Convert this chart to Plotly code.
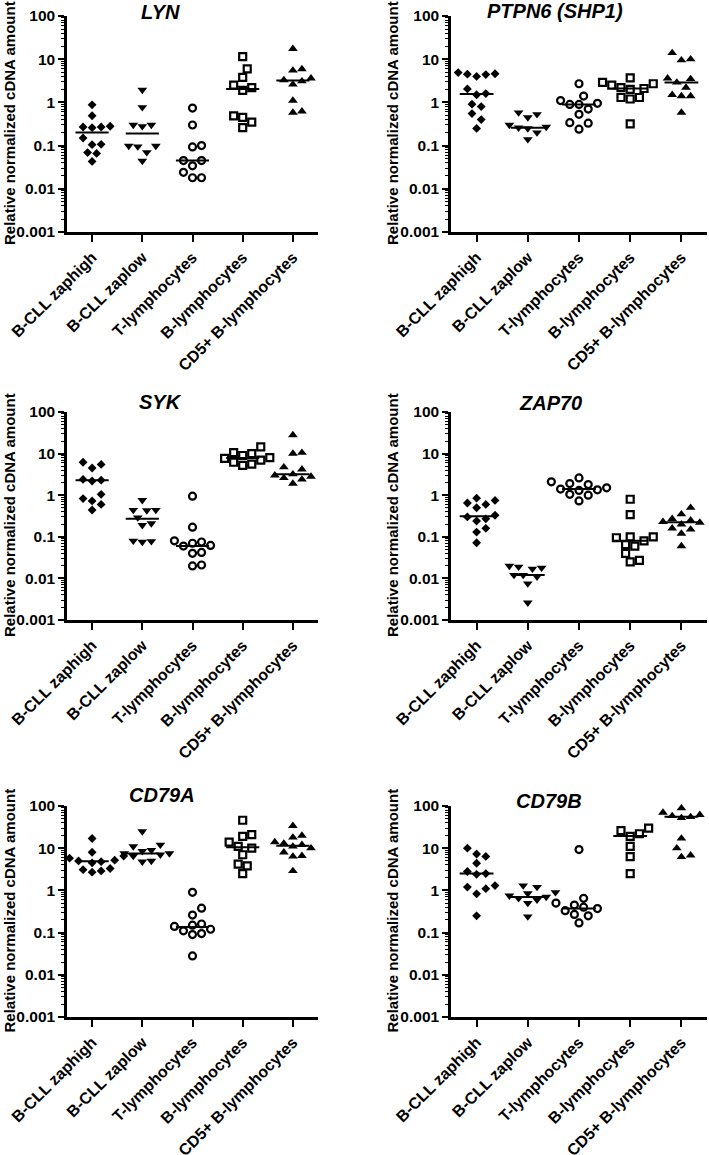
import numpy as np
import plotly.graph_objects as go

categories = ["B-CLL zaphigh", "B-CLL zaplow", "T-lymphocytes", "B-lymphocytes", "CD5+ B-lymphocytes"]
genes = ["LYN", "PTPN6 (SHP1)", "SYK", "ZAP70", "CD79A", "CD79B"]
tick_vals = [0.001, 0.01, 0.1, 1, 10, 100]
tick_text = ["0.001", "0.01", "0.1", "1", "10", "100"]

lyn = [
    [0.88, 0.49, 0.27, 0.27, 0.28, 0.26, 0.15, 0.107, 0.105, 0.069, 0.066, 0.043],
    [1.94, 0.77, 0.30, 0.30, 0.28, 0.098, 0.098, 0.095, 0.07, 0.044],
    [0.74, 0.30, 0.10, 0.093, 0.045, 0.045, 0.034, 0.024, 0.018, 0.018],
    [11.5, 6.0, 3.8, 2.5, 2.2, 1.9, 0.49, 0.45, 0.35, 0.26],
    [17.4, 5.9, 5.5, 3.6, 3.3, 3.1, 2.6, 1.1, 0.62, 0.58],
]
lyn_median = [0.2, 0.19, 0.045, 2.05, 3.2]

ptpn6 = [
    [4.9, 4.6, 4.5, 4.4, 4.0, 2.05, 1.6, 1.5, 0.91, 0.8, 0.55, 0.4, 0.25],
    [0.58, 0.53, 0.45, 0.30, 0.27, 0.26, 0.25, 0.2, 0.14],
    [2.7, 1.4, 1.1, 0.95, 0.9, 0.9, 0.7, 0.53, 0.34, 0.33, 0.24],
    [3.7, 2.9, 2.7, 2.5, 2.2, 2.1, 2.0, 1.3, 1.3, 1.2, 0.32],
    [14, 10, 9.5, 3.6, 3.5, 2.9, 2.2, 1.5, 1.4, 1.4, 0.58],
]
ptpn6_median = [1.57, 0.26, 0.9, 2.1, 2.9]

syk = [
    [6.2, 5.5, 4.5, 2.4, 2.3, 2.2, 1.05, 0.83, 0.73, 0.6, 0.44],
    [0.76, 0.44, 0.44, 0.43, 0.29, 0.21, 0.19, 0.08, 0.078, 0.075],
    [0.95, 0.17, 0.08, 0.075, 0.07, 0.062, 0.06, 0.042, 0.04, 0.021, 0.02],
    [14.5, 10.5, 10, 9, 8, 7.7, 7, 6.2, 5.6, 5.2],
    [28, 10.5, 10, 4.7, 4.2, 3.2, 3.0, 2.8, 2.6, 2.4, 1.9],
]
syk_median = [2.3, 0.27, 0.06, 7.8, 3.2]

zap70 = [
    [0.85, 0.75, 0.65, 0.6, 0.5, 0.33, 0.3, 0.27, 0.24, 0.16, 0.13, 0.072],
    [0.02, 0.019, 0.018, 0.017, 0.012, 0.012, 0.011, 0.0075, 0.0026],
    [2.6, 2.1, 1.9, 1.8, 1.5, 1.4, 1.35, 1.3, 1.05, 1.0, 0.73],
    [0.8, 0.34, 0.1, 0.1, 0.095, 0.08, 0.065, 0.06, 0.04, 0.027, 0.025],
    [0.5, 0.35, 0.3, 0.27, 0.25, 0.23, 0.22, 0.2, 0.16, 0.15, 0.12, 0.06],
]
zap70_median = [0.31, 0.012, 1.4, 0.08, 0.225]

cd79a = [
    [17, 8, 6.5, 5.8, 5.2, 5.0, 4.8, 4.5, 3.3, 3.1, 2.9, 2.7],
    [25, 12, 11, 9, 8.5, 7.5, 7.5, 7, 6.5, 5, 4.8],
    [0.9, 0.38, 0.26, 0.16, 0.15, 0.14, 0.12, 0.11, 0.095, 0.09, 0.028],
    [46, 21, 19, 14, 11, 10, 7, 4.2, 3.8, 2.5],
    [34, 20, 18, 14, 13, 12, 11, 10, 8, 6.6, 6.4, 2.9],
]
cd79a_median = [4.9, 7.5, 0.135, 10.5, 11.5]

cd79b = [
    [10, 7.3, 6.4, 4.4, 2.8, 2.5, 2.4, 1.3, 1.2, 1.1, 0.83, 0.25],
    [1.3, 1.2, 0.9, 0.85, 0.75, 0.7, 0.65, 0.6, 0.5, 0.24],
    [9.3, 0.65, 0.5, 0.45, 0.4, 0.37, 0.33, 0.27, 0.25, 0.17],
    [30, 26, 22, 19, 11, 6.3, 2.5],
    [89, 70, 62, 58, 55, 52, 17, 10, 6.8, 6.2],
]
cd79b_median = [2.5, 0.7, 0.37, 19.5, 56]

panel_values = [lyn, ptpn6, syk, zap70, cd79a, cd79b]
panel_medians = [lyn_median, ptpn6_median, syk_median, zap70_median, cd79a_median, cd79b_median]

# ---------------- layout geometry (pixels) ----------------
W, H = 709, 1155
col_px = [(67, 318), (451, 707)]
row_px = [(16, 232), (412, 620), (806, 1017)]
title_pos = [(160, 12), (555, 11), (160, 402), (550, 403), (162, 795), (549, 801)]
ytitle_x = [9, 392]

FONT = "Liberation Sans, Arial, Helvetica, sans-serif"
symbols = ["diamond", "triangle-down", "circle-open", "square-open", "triangle-up"]
sizes = [6.8, 8.5, 7, 7, 8.5]
line_w = [0, 0, 2.2, 2.2, 0]


def swarm(vals, xpx=50.0, ypx=42.0, diam=9.0):
    """Deterministic beeswarm offsets (category units) from values."""
    logs = np.log10(np.asarray(vals, dtype=float))
    order = np.argsort(logs)
    placed = []
    offs = np.zeros(len(logs))
    cands = [0.0]
    for j in range(1, 30):
        cands += [j * diam / 2, -j * diam / 2]
    for i in order:
        y = logs[i] * ypx
        for c in cands:
            if all((c - px) ** 2 + (y - py) ** 2 >= (diam * 0.98) ** 2 for px, py in placed):
                placed.append((c, y))
                offs[i] = c / xpx
                break
    return offs


minor_vals = [k * 10.0 ** e for e in range(-3, 2) for k in range(2, 10)]

fig = go.Figure()
annotations = []
for p in range(6):
    r, c = divmod(p, 2)
    sfx = "" if p == 0 else str(p + 1)
    xa, ya = "x" + sfx, "y" + sfx
    for g in range(5):
        vals = panel_values[p][g]
        off = swarm(vals)
        fig.add_trace(go.Scatter(
            x=g + off, y=vals, mode="markers", xaxis=xa, yaxis=ya,
            marker=dict(symbol=symbols[g], size=sizes[g], color="black",
                        line=dict(width=line_w[g], color="black")),
            cliponaxis=False, showlegend=False, hoverinfo="skip"))
        m = panel_medians[p][g]
        fig.add_trace(go.Scatter(
            x=[g - 0.33, g + 0.33], y=[m, m], mode="lines", xaxis=xa, yaxis=ya,
            line=dict(color="black", width=2), cliponaxis=False,
            showlegend=False, hoverinfo="skip"))

    x0, x1 = col_px[c]
    y0, y1 = row_px[r]
    fig.layout["xaxis" + sfx] = dict(
        domain=[x0 / W, x1 / W], anchor=ya, range=[-0.5, 4.5], automargin=False,
        tickmode="array", tickvals=list(range(5)), ticktext=categories,
        tickangle=-45, ticks="outside", ticklen=7, tickwidth=2.2, tickcolor="black",
        showline=True, linewidth=2.5, linecolor="black", showgrid=False, zeroline=False,
        tickfont=dict(family=FONT, size=16, color="black", weight="bold"))
    fig.layout["yaxis" + sfx] = dict(
        domain=[1 - y1 / H, 1 - y0 / H], anchor=xa, type="log", range=[-3, 2],
        automargin=False,
        tickmode="array", tickvals=tick_vals, ticktext=tick_text,
        ticks="outside", ticklen=6, tickwidth=2.2, tickcolor="black",
        minor=dict(tickmode="array", tickvals=minor_vals, ticks="outside",
                   ticklen=3, tickwidth=1.2, tickcolor="black", showgrid=False),
        showline=True, linewidth=2.5, linecolor="black", showgrid=False, zeroline=False,
        tickfont=dict(family=FONT, size=15.5, color="black", weight="bold"))

    tx, ty = title_pos[p]
    annotations.append(dict(
        text=genes[p], x=tx / W, y=1 - ty / H, xref="paper", yref="paper",
        xanchor="center", yanchor="middle", showarrow=False,
        font=dict(family=FONT, size=20, color="black", weight="bold", style="italic")))
    annotations.append(dict(
        text="Relative normalized cDNA amount", x=ytitle_x[c] / W,
        y=1 - ((y0 + y1) / 2 - 1) / H, xref="paper", yref="paper",
        xanchor="center", yanchor="middle", showarrow=False, textangle=-90,
        font=dict(family=FONT, size=15, color="black", weight="bold")))

fig.update_layout(
    template="none",
    width=W, height=H, margin=dict(l=0, r=0, t=0, b=0, pad=0), autosize=False,
    paper_bgcolor="white", plot_bgcolor="white",
    annotations=annotations, showlegend=False)

fig.write_html("out.html", config={"displayModeBar": False},
               post_script="document.body.style.margin='0';document.body.style.padding='0';"
                           "document.documentElement.style.overflow='hidden';")
